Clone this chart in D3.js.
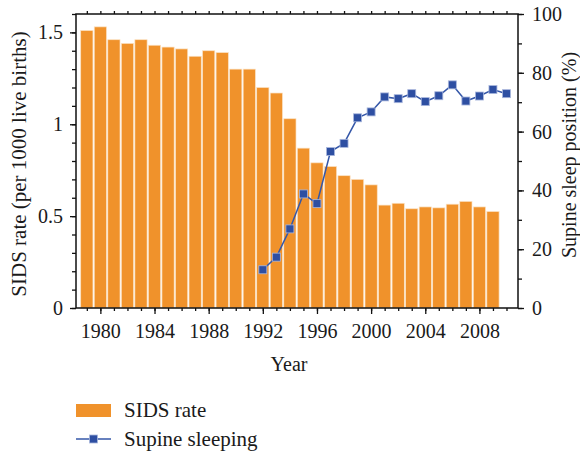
<!DOCTYPE html>
<html>
<head>
<meta charset="utf-8">
<script src="https://cdn.jsdelivr.net/npm/d3@7"></script>
<style>
  html, body { margin: 0; padding: 0; background: #fff; }
  svg { display: block; }
  text { font-family: "Liberation Serif", "Times New Roman", serif; fill: #1a1a1a; }
</style>
</head>
<body>
<svg id="chart" width="580" height="452"></svg>
<script>
const sidsYears = [1979,1980,1981,1982,1983,1984,1985,1986,1987,1988,1989,1990,1991,1992,1993,1994,1995,1996,1997,1998,1999,2000,2001,2002,2003,2004,2005,2006,2007,2008,2009];
const sidsRate = [1.51,1.53,1.46,1.44,1.46,1.43,1.42,1.41,1.37,1.40,1.39,1.30,1.30,1.20,1.17,1.03,0.87,0.79,0.77,0.72,0.70,0.67,0.56,0.57,0.54,0.55,0.545,0.565,0.58,0.55,0.525];
const supineYears = [1992,1993,1994,1995,1996,1997,1998,1999,2000,2001,2002,2003,2004,2005,2006,2007,2008,2009,2010];
const supinePct = [13.0,17.3,26.9,38.8,35.5,53.2,56.0,64.7,66.7,71.8,71.2,72.9,70.2,72.2,75.9,70.4,72.1,74.3,72.9];
const xMajorTicks = [1980,1984,1988,1992,1996,2000,2004,2008];
const leftMajorTicks = [0,0.5,1,1.5];
const leftTickLabels = ["0","0.5","1","1.5"];
const rightMajorTicks = [0,20,40,60,80,100];

const svg = d3.select("#chart");
const L = 76, R = 518, T = 14, B = 308;
const x = d3.scaleLinear().domain([1978.2, 2010.85]).range([L, R]);
const yL = d3.scaleLinear().domain([0, 1.6]).range([B, T]);
const yR = d3.scaleLinear().domain([0, 100]).range([B, T]);
const fs = 20;

// bars
const bw = (x(1) - x(0)) - 1.3;
svg.append("g").selectAll("rect").data(sidsYears).join("rect")
  .attr("x", (d) => x(d) - bw / 2)
  .attr("width", bw)
  .attr("y", (d, i) => yL(sidsRate[i]))
  .attr("height", (d, i) => B - yL(sidsRate[i]))
  .attr("fill", "#F0922B")
  .attr("stroke", "#FBE2C4")
  .attr("stroke-width", 0.7);

function styleAxis(g) {
  g.select(".domain").remove();
  g.selectAll("line").attr("stroke", "#111").attr("stroke-width", 1.3);
  g.selectAll("text").style("font-size", fs + "px").attr("fill", "#1a1a1a");
}

// bottom axis
const minorYears = d3.range(1979, 2011);
svg.append("g").attr("transform", `translate(0,${B})`)
  .call(d3.axisBottom(x).tickValues(minorYears).tickSize(3).tickFormat(""))
  .call(styleAxis);
svg.append("g").attr("transform", `translate(0,${B})`)
  .call(d3.axisBottom(x).tickValues(xMajorTicks).tickSize(6).tickPadding(10).tickFormat(d3.format("d")))
  .call(styleAxis);
// top ticks
svg.append("g").attr("transform", `translate(0,${T})`)
  .call(d3.axisTop(x).tickValues(minorYears).tickSize(3).tickFormat(""))
  .call(styleAxis);

// left axis
svg.append("g").attr("transform", `translate(${L},0)`)
  .call(d3.axisLeft(yL).tickValues(d3.range(0, 17).map(v => v / 10)).tickSize(4).tickFormat(""))
  .call(styleAxis);
svg.append("g").attr("transform", `translate(${L},0)`)
  .call(d3.axisLeft(yL).tickValues(leftMajorTicks).tickSize(6).tickPadding(7).tickFormat((d, i) => leftTickLabels[i]))
  .call(styleAxis);

// right axis
svg.append("g").attr("transform", `translate(${R},0)`)
  .call(d3.axisRight(yR).tickValues(d3.range(0, 101, 10)).tickSize(4).tickFormat(""))
  .call(styleAxis);
svg.append("g").attr("transform", `translate(${R},0)`)
  .call(d3.axisRight(yR).tickValues(rightMajorTicks).tickSize(6).tickPadding(8).tickFormat(d3.format("d")))
  .call(styleAxis);

// frame
svg.append("path")
  .attr("d", `M${L},${T}H${R}V${B}H${L}Z`)
  .attr("fill", "none").attr("stroke", "#111").attr("stroke-width", 1.5);

// supine line
const line = d3.line().x((d) => x(d)).y((d, i) => yR(supinePct[i]));
svg.append("path").datum(supineYears)
  .attr("d", line)
  .attr("fill", "none").attr("stroke", "#3557A8").attr("stroke-width", 1.5);
const ms = 8;
svg.append("g").selectAll("rect").data(supineYears).join("rect")
  .attr("x", (d) => x(d) - ms / 2)
  .attr("y", (d, i) => yR(supinePct[i]) - ms / 2)
  .attr("width", ms).attr("height", ms)
  .attr("fill", "#2E4FA2").attr("stroke", "#A9B7DD").attr("stroke-width", 0.8);

// axis titles
svg.append("text").attr("transform", `translate(26,164) rotate(-90)`)
  .attr("text-anchor", "middle").style("font-size", "21px")
  .text("SIDS rate (per 1000 live births)");
svg.append("text").attr("transform", `translate(576,155) rotate(-90)`)
  .attr("text-anchor", "middle").style("font-size", "20px")
  .text("Supine sleep position (%)");
svg.append("text").attr("x", 289).attr("y", 371)
  .attr("text-anchor", "middle").style("font-size", "20px").text("Year");

// legend
const lg = svg.append("g");
lg.append("rect").attr("x", 76).attr("y", 404).attr("width", 35).attr("height", 13).attr("fill", "#F0922B");
lg.append("text").attr("x", 124).attr("y", 417).style("font-size", "21px").text("SIDS rate");
lg.append("line").attr("x1", 76).attr("x2", 111).attr("y1", 439).attr("y2", 439)
  .attr("stroke", "#3557A8").attr("stroke-width", 1.5);
lg.append("rect").attr("x", 93.5 - ms / 2).attr("y", 439 - ms / 2).attr("width", ms).attr("height", ms)
  .attr("fill", "#2E4FA2").attr("stroke", "#A9B7DD").attr("stroke-width", 0.8);
lg.append("text").attr("x", 124).attr("y", 446).style("font-size", "21px").text("Supine sleeping");
</script>
</body>
</html>
